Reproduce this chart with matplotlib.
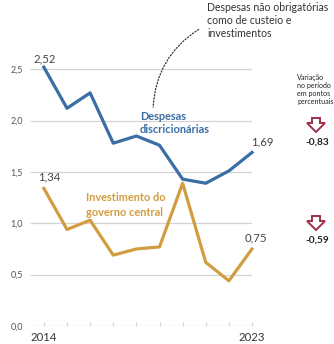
import matplotlib.pyplot as plt
from matplotlib.patches import Polygon
from matplotlib.transforms import IdentityTransform

plt.rcParams['font.family'] = ['Lato', 'DejaVu Sans']

# Despesas em % do PIB
years = list(range(2014, 2024))
discricionarias = [2.52, 2.12, 2.27, 1.78, 1.85, 1.76, 1.43, 1.39, 1.51, 1.69]
investimento = [1.34, 0.94, 1.03, 0.69, 0.75, 0.77, 1.39, 0.62, 0.44, 0.75]
y_ticks = [0.0, 0.5, 1.0, 1.5, 2.0, 2.5]
x_labels = {2014: '2014', 2023: '2023'}

blue = '#3a6ea5'
gold = '#d29d40'
red = '#a0304a'
grid = '#d4d4d4'


def br(v):
    return f'{v:.2f}'.replace('.', ',')


W, H = 334, 344
fig = plt.figure(figsize=(W / 100, H / 100), dpi=100)
x0, x1 = 2013.4, 2023.0
ax = fig.add_axes([30 / W, 18 / H, 222 / W, 2.9 * 102.7 / H])
ax.set_xlim(x0, x1)
ax.set_ylim(0, 2.9)
for s in ax.spines.values():
    s.set_visible(False)

ax.hlines(y_ticks, x0, x1, color=grid, lw=0.9, zorder=1)
ax.set_yticks(y_ticks)
ax.set_yticklabels([f'{v:.1f}'.replace('.', ',') for v in y_ticks])
ax.tick_params(axis='y', length=0, pad=5, labelsize=6.5, labelcolor='#555555')
ax.set_xticks(years)
ax.set_xticklabels([x_labels.get(y, '') for y in years])
ax.tick_params(axis='x', direction='in', length=3, width=0.8, color=grid,
               pad=4, labelsize=8.2, labelcolor='#333333')

ax.plot(years, discricionarias, color=blue, lw=2.3, clip_on=False, zorder=3)
ax.plot(years, investimento, color=gold, lw=2.3, clip_on=False, zorder=2)

# valores inicial e final
lab = dict(textcoords='offset pixels', fontsize=8.2, color='#444444', va='bottom',
           ha='center', annotation_clip=False)
ax.annotate(br(discricionarias[0]), (years[0], discricionarias[0]), xytext=(1, 3), **lab)
ax.annotate(br(investimento[0]), (years[0], investimento[0]), xytext=(5, 6), **lab)
ax.annotate(br(discricionarias[-1]), (years[-1], discricionarias[-1]), xytext=(10, 5), **lab)
ax.annotate(br(investimento[-1]), (years[-1], investimento[-1]), xytext=(4, 6), **lab)

ax.text(2018.16, 2.09, 'Despesas\ndiscricionárias', color=blue, fontsize=7.9,
        fontweight='bold', ha='left', va='top', linespacing=1.2)
ax.text(2015.82, 1.30, 'Investimento do\ngoverno central', color=gold, fontsize=7.9,
        fontweight='bold', ha='left', va='top', linespacing=1.35)

fig.text(207 / W, 1 - 2 / H, 'Despesas não obrigatórias\ncomo de custeio e\ninvestimentos',
         fontsize=7.6, color='#333333', ha='left', va='top', linespacing=1.2)
ax.annotate('', xy=(153, H - 110), xycoords='figure pixels',
            xytext=(201, H - 28), textcoords='figure pixels',
            arrowprops=dict(arrowstyle='-', color='#333333', lw=0.9,
                            linestyle=(0, (1, 1.5)),
                            connectionstyle='arc3,rad=0.27'))

# variação no período
fig.text(297 / W, 1 - 74 / H, 'Variação\nno período\nem pontos\npercentuais',
         fontsize=5.1, color='#222222', ha='left', va='top', linespacing=1.15)


def down_arrow(cx, top):
    pts = [(cx - 4, top), (cx + 4, top), (cx + 4, top + 5), (cx + 9, top + 5),
           (cx, top + 14), (cx - 9, top + 5), (cx - 4, top + 5)]
    pts = [(x, H - y) for x, y in pts]
    fig.patches.append(Polygon(pts, closed=True, fill=False, edgecolor=red,
                               lw=1.4, transform=IdentityTransform(), figure=fig))


for series, top in ((discricionarias, 118), (investimento, 216)):
    down_arrow(316, top)
    fig.text(317 / W, 1 - (top + 24) / H, br(series[-1] - series[0]),
             fontsize=7.3, fontweight='bold', color='#222222', ha='center', va='center')

fig.savefig('out.png', dpi=100)
